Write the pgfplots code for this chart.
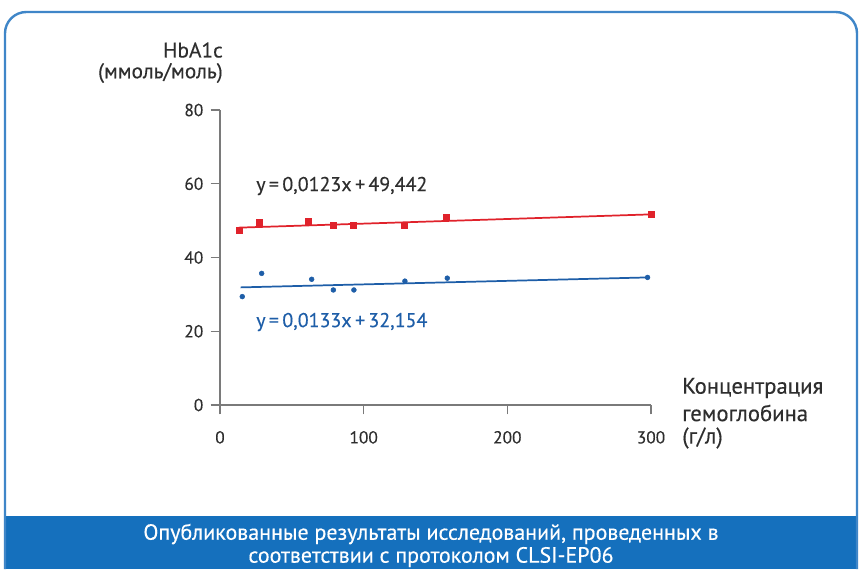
\documentclass[border=0pt]{standalone}
\usepackage{pgfplots}
\pgfplotsset{compat=1.18}
\usepackage{fontspec}
\setmainfont{PT Sans}[FakeBold=0.3]
\definecolor{myred}{HTML}{E0222B}
\definecolor{myblue}{HTML}{1E5EA8}
\definecolor{banner}{HTML}{1570BD}
\definecolor{frame}{HTML}{3F86C8}
\definecolor{axgray}{HTML}{7A7A7A}
\definecolor{txt}{HTML}{2E2E2E}
\newcommand\fs[1]{\fontsize{#1}{#1}\selectfont}
\begin{document}
\begin{tikzpicture}
\begin{scope}[x=0.75pt,y=-0.75pt]
\useasboundingbox (0,0) rectangle (862,569);
\fill[white] (0,0) rectangle (862,569);
\fill[banner] (5,516) rectangle (857,569);
\draw[frame,line width=1.8pt,rounded corners=16pt] (5,569) -- (5,12) -- (857,12) -- (857,569);
\node[anchor=east,text=txt,font=\fs{16},inner sep=0] at (223,50) {HbA1c};
\node[anchor=east,text=txt,font=\fs{16},inner sep=0] at (223,73) {(ммоль/моль)};
\node[anchor=west,text=txt,font=\fs{15},inner sep=0] at (256,186) {y\,=\,0,0123x\,+\,49,442};
\node[anchor=west,text=myblue,font=\fs{15},inner sep=0] at (256,322) {y\,=\,0,0133x\,+\,32,154};
\node[anchor=west,text=txt,font=\fs{17},inner sep=0] at (682,388) {Концентрация};
\node[anchor=west,text=txt,font=\fs{17},inner sep=0] at (682,413) {гемоглобина};
\node[anchor=west,text=txt,font=\fs{17},inner sep=0] at (682,438) {(г/л)};
\node[text=white,font=\fs{16.5},inner sep=0] at (431,534) {Опубликованные результаты исследований, проведенных в};
\node[text=white,font=\fs{16.5},inner sep=0] at (431,557) {соответствии с протоколом CLSI-EP06};
\end{scope}
\begin{axis}[
  at={(165pt,-303.75pt)}, anchor=south west,
  scale only axis, width=323.25pt, height=221.25pt,
  xmin=0, xmax=300, ymin=0, ymax=80,
  axis x line=bottom, axis y line=left,
  axis line style={-,axgray,line width=1pt},
  xtick={0,100,200,300}, ytick={0,20,40,60,80},
  tick style={axgray,line width=1pt},
  major tick length=7pt, tick align=outside,
  ticklabel style={text=txt,font=\fs{13}},
  xticklabel style={yshift=-9pt},
  yticklabel style={xshift=-2pt},
  /pgf/number format/assume math mode=true,
  clip=false,
]
\addplot[myred, line width=1.3pt, no marks] coordinates {(13,48.1) (300,51.7)};
\addplot[only marks, mark=square*, mark size=2.3pt, myred] coordinates {
(13.2,47.5) (27.4,49.5) (61.5,49.9) (78.9,48.8) (92.8,48.8) (128.3,48.8) (157.7,50.8) (300,51.7)};
\addplot[myblue, line width=1.3pt, no marks] coordinates {(14.4,31.9) (297.6,34.6)};
\addplot[only marks, mark=*, mark size=1.8pt, myblue] coordinates {
(15.5,29.4) (29.0,35.7) (63.8,34.1) (78.9,31.2) (93.2,31.2) (128.7,33.6) (158.2,34.4) (297.6,34.6)};
\end{axis}
\end{tikzpicture}
\end{document}
